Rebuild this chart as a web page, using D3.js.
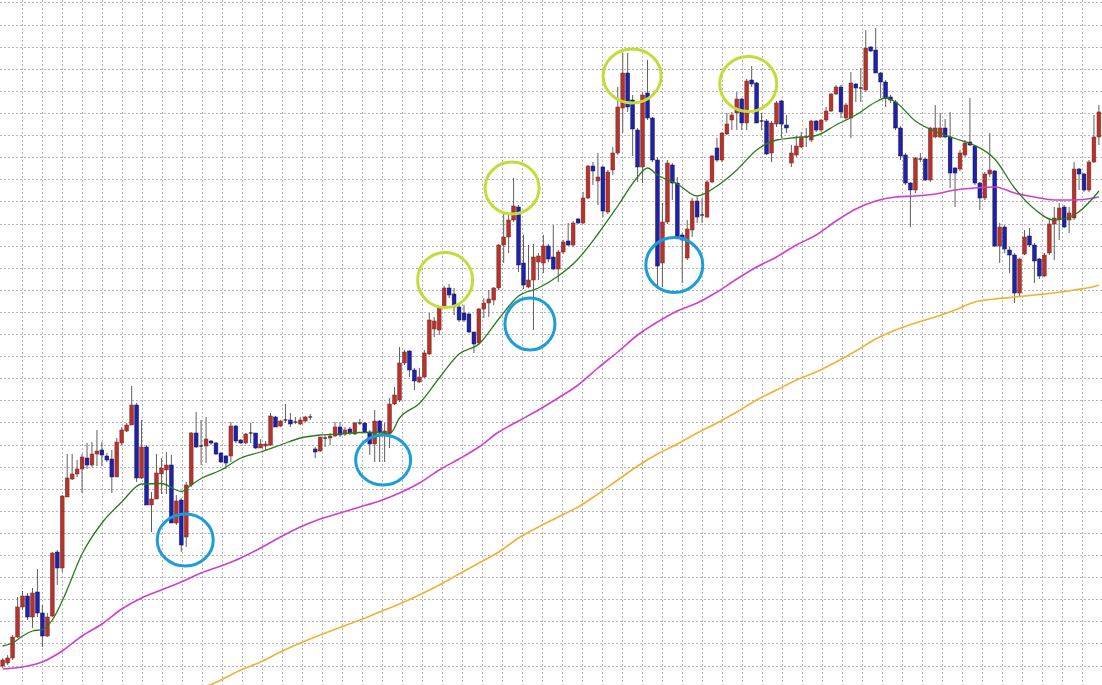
<!DOCTYPE html>
<html><head><meta charset="utf-8">
<script src="https://cdn.jsdelivr.net/npm/d3@7"></script>
<style>html,body{margin:0;padding:0;background:#fff;overflow:hidden}svg{display:block}</style>
</head><body>
<svg id="chart" width="1102" height="685"></svg>
<script>
// [open, high, low, close]
const ohlc = [
[34,42,32,40],[37,45,35,42],[42,65,40,63],[63,103,62,93],[93,109,90,104],[104,107,80,83],[83,112,72,107],[108,131,83,87],[87,95,53,64],[64,87,63,83],
[84,148,83,147],[148,150,115,132],[132,205,128,204],[203,246,203,222],[221,246,220,226],[226,240,223,231],[231,246,207,243],[242,257,231,235],[235,258,233,246],[246,270,234,249],
[250,258,234,245],[244,247,238,240],[241,250,207,223],[223,262,223,258],[257,273,255,270],[269,277,268,275],[275,314,275,295],[295,297,218,222],[222,280,221,253],[253,255,195,195],
[195,208,168,201],[201,246,201,227],[226,242,206,232],[230,248,206,235],[235,245,177,177],[177,205,175,199],[200,202,148,155],[163,218,153,215],[215,268,213,267],[267,288,252,253],
[254,280,235,254],[254,283,237,261],[259,260,255,257],[257,258,245,246],[247,248,237,238],[244,245,231,237],[244,278,238,274],[274,275,257,259],[260,261,256,257],[257,267,256,266],
[267,277,257,267],[267,267,251,252],[252,261,252,256],[254,259,250,256],[255,287,254,284],[283,284,273,273],[274,280,273,279],[280,296,277,280],[280,287,273,276],[278,283,276,278],
[276,283,275,280],[279,284,278,283],[283,286,280,283],[251,253,242,248],[249,263,248,263],[262,265,253,262],[262,267,255,264],[264,278,263,273],[273,278,263,265],[266,273,264,270],
[271,273,265,267],[266,278,265,277],[277,281,275,277],[277,278,267,268],[268,270,245,256],[256,290,238,279],[279,280,238,267],[266,277,238,269],[267,302,252,296],[296,313,295,305],
[300,353,298,337],[337,350,335,348],[349,350,323,330],[330,332,310,319],[318,332,317,323],[323,350,322,347],[346,387,345,380],[371,383,363,379],[370,393,365,392],[393,414,392,412],
[412,416,402,405],[406,412,385,393],[393,397,378,380],[387,395,378,380],[386,387,367,368],[368,368,347,356],[357,392,355,391],[391,402,382,397],[397,410,383,401],[400,413,395,412],
[412,456,410,455],[455,488,437,463],[463,487,447,480],[480,522,478,494],[493,495,428,435],[437,465,411,415],[413,455,412,420],[420,456,370,443],[438,447,420,444],[437,465,427,454],
[454,456,438,441],[443,475,430,431],[431,450,418,448],[448,460,446,458],[459,477,454,455],[455,479,453,477],[481,482,476,477],[477,508,476,502],[502,535,501,534],[534,538,515,529],
[519,547,495,523],[533,534,483,489],[488,530,486,528],[530,553,525,547],[547,613,545,593],[592,647,567,627],[627,647,588,593],[600,605,544,571],[570,572,518,533],[533,608,517,605],
[607,640,580,582],[582,583,538,540],[540,543,413,434],[437,497,413,478],[478,540,476,537],[535,537,500,517],[517,523,462,463],[465,467,417,460],[442,480,440,471],[470,502,463,499],
[499,503,477,483],[485,502,477,485],[483,520,482,518],[518,545,517,544],[552,562,538,540],[540,568,538,567],[566,587,565,576],[580,588,570,585],[587,608,570,601],[601,602,570,577],
[577,621,570,619],[620,634,613,616],[617,618,577,577],[579,587,570,579],[579,581,545,546],[547,579,538,577],[576,599,573,597],[599,600,562,576],[575,585,567,572],[537,555,533,547],
[545,564,543,554],[553,568,552,563],[563,572,553,563],[560,580,558,579],[579,580,568,570],[570,581,568,580],[580,593,578,589],[589,607,588,606],[606,615,605,613],[613,615,582,588],
[582,597,580,595],[582,628,562,617],[616,617,598,612],[612,632,598,612],[610,670,608,652],[653,654,648,649],[650,672,627,627],[627,628,602,618],[618,620,593,602],[603,605,597,600],
[598,600,570,572],[572,574,540,544],[545,547,515,517],[517,518,473,510],[510,543,507,542],[541,547,538,541],[541,542,519,520],[520,573,518,572],[563,595,562,572],[563,587,562,572],
[572,581,562,563],[563,588,512,527],[532,533,493,527],[531,550,529,547],[545,560,543,557],[558,602,554,555],[554,555,515,517],[517,518,490,502],[502,528,500,526],[526,567,523,530],
[529,530,453,454],[454,477,437,473],[473,475,447,451],[450,453,427,445],[445,447,397,407],[407,442,403,441],[446,470,445,463],[464,472,453,455],[455,457,417,439],[441,442,421,424],
[424,447,423,445],[447,481,445,476],[476,493,440,482],[481,497,460,492],[493,495,472,473],[480,493,467,487],[482,538,480,531],[531,532,510,526],[526,527,508,510],[510,540,508,538],
[538,585,537,563],[563,595,555,588]
];

// moving averages: [bar index, value]
const maFast = [[0,54],[2,57],[4,64],[6,69],[8,70.5],[10,80],[12,99],[16,146],[20,177],[24,198],[28,216],[32,216.5],[36,208.5],[38,215],[40,221.5],[44,230],[48,242],[52,248],[56,255],[60,262],[64,265],[68,266],[72,267.5],[76,267.5],[78,266],[80,282],[84,296.5],[88,322],[92,346],[96,356],[100,381],[104,404],[108,412],[112,424],[116,441],[120,466],[124,494],[128,523],[130,532],[132,525],[136,516],[140,504],[144,514],[148,530],[152,550],[156,560],[160,562.5],[164,564.5],[168,575],[172,585],[176,598],[178,602],[180,598],[184,579],[188,568.5],[192,561.5],[196,554.5],[200,541],[204,512],[208,491],[212,480],[216,485],[220,503],[221,509]];
const maMid = [[0,31],[4,33],[8,38],[12,49],[16,64],[20,76],[24,91],[28,102],[32,110],[36,118],[40,127],[44,134],[48,142],[52,152],[56,163],[60,173],[64,181],[68,187],[72,193],[76,199],[80,207],[84,217],[88,230],[92,241],[96,253],[100,268],[104,279],[108,290],[112,302],[116,315],[120,332],[124,348],[128,365],[132,378],[136,389],[140,397],[144,408],[148,421],[152,433],[156,443],[160,455],[164,465],[168,479],[172,491],[176,499],[180,503],[184,504],[188,506],[192,510],[196,512],[200,513],[204,507],[208,503],[212,500],[216,500],[220,502],[221,503]];
const maSlow = [[41,14],[42,15.5],[44,20],[48,30],[52,38],[56,48],[60,57],[64,65],[68,72.5],[72,80],[76,88],[80,96],[84,105],[88,115],[92,126],[96,137],[100,148],[104,162],[108,173],[112,183],[116,193],[120,206],[124,220],[128,234],[132,246],[136,256],[140,267],[144,277],[148,288],[152,300],[156,310],[160,320],[164,328],[168,338],[172,349],[176,361],[180,370],[184,377],[188,383],[192,390],[196,398],[200,401],[204,403],[208,405],[212,407],[216,410],[220,413.5],[221,415]];

// annotation circles: [bar index, value]
const highMarks = [[89.2,420],[102.7,512],[126.9,624],[150.3,616]];
const lowMarks = [[36.8,160],[76.7,240],[106.3,376],[135.4,435]];
const highRadii = [[27.5,27.5],[27,26],[29,27],[28.5,27.5]];
const lowRadii = [[28,26],[27.5,25],[25,26],[28.5,27.5]];

const W = 1102, H = 685;
const svg = d3.select('#chart');
const x = d3.scaleLinear().domain([0, ohlc.length - 1]).range([2.7, 1098.9]);
const y = d3.scaleLinear().domain([0, 700]).range([700, 0]);

svg.append('rect').attr('width', W).attr('height', H).attr('fill', '#fff');

// grid
const g = svg.append('g').attr('stroke', '#b4b4b4').attr('stroke-width', 1).attr('stroke-dasharray', '2,2');
const hVals = d3.range(34.5, 700, 22.1);
g.selectAll('line.h').data(hVals).join('line').attr('class','h')
  .attr('x1', 0).attr('x2', W)
  .attr('y1', d => Math.round(y(d)) + 0.5).attr('y2', d => Math.round(y(d)) + 0.5);
const vPix = d3.range(21.7, W + 1, 20);
g.selectAll('line.v').data(vPix).join('line').attr('class','v')
  .attr('y1', 0).attr('y2', H)
  .attr('x1', d => Math.round(d) + 0.5).attr('x2', d => Math.round(d) + 0.5);

// candles
const bw = 3.8;
const cg = svg.append('g');
ohlc.forEach((d, i) => {
  const [o, h, l, c] = d;
  const cx = x(i);
  const up = c > o, doji = c === o;
  cg.append('line').attr('x1', cx).attr('x2', cx).attr('y1', y(h)).attr('y2', y(l))
    .attr('stroke', '#5e5e5e').attr('stroke-width', 1);
  if (doji) {
    cg.append('rect').attr('x', cx - bw/2).attr('width', bw).attr('y', y(o) - 0.6).attr('height', 1.2).attr('fill', '#222');
  } else {
    const top = y(Math.max(o, c)), bot = y(Math.min(o, c));
    cg.append('rect').attr('x', cx - bw/2).attr('width', bw).attr('y', top).attr('height', Math.max(1, bot - top))
      .attr('fill', up ? '#b0352e' : '#1f22a3')
      .attr('stroke', up ? '#8c2620' : '#12146e').attr('stroke-width', 0.5);
  }
});

// moving averages
const line = d3.line().x(d => x(d[0])).y(d => y(d[1])).curve(d3.curveMonotoneX);
svg.append('path').datum(maSlow).attr('d', line).attr('fill','none').attr('stroke','#eeb236').attr('stroke-width',1.6);
svg.append('path').datum(maMid).attr('d', line).attr('fill','none').attr('stroke','#cf3fcf').attr('stroke-width',1.6);
svg.append('path').datum(maFast).attr('d', line).attr('fill','none').attr('stroke','#2a7a1e').attr('stroke-width',1.3);

// circles
svg.selectAll('ellipse.hi').data(highMarks).join('ellipse').attr('class','hi')
  .attr('cx', d => x(d[0])).attr('cy', d => y(d[1]))
  .attr('rx', (d,i) => highRadii[i][0]).attr('ry', (d,i) => highRadii[i][1])
  .attr('fill','none').attr('stroke','#c4dc3a').attr('stroke-width',3);
svg.selectAll('ellipse.lo').data(lowMarks).join('ellipse').attr('class','lo')
  .attr('cx', d => x(d[0])).attr('cy', d => y(d[1]))
  .attr('rx', (d,i) => lowRadii[i][0]).attr('ry', (d,i) => lowRadii[i][1])
  .attr('fill','none').attr('stroke','#1c9cd8').attr('stroke-width',3);
</script>
</body></html>
